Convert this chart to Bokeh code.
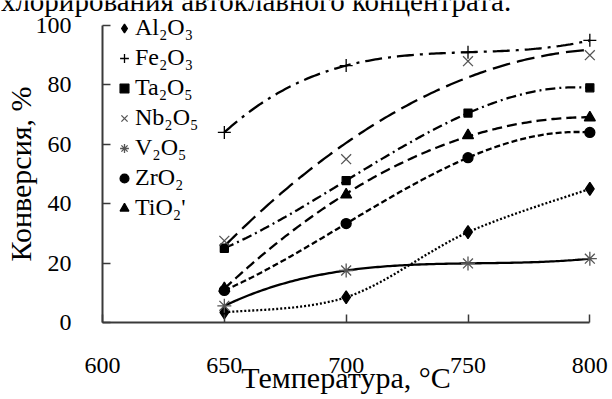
import numpy as np
from bokeh.plotting import figure
from bokeh.models import FixedTicker, Legend, LegendItem, Label, Range1d
from bokeh.embed import file_html
from bokeh.resources import INLINE

# ---- data ----
temps = [650, 700, 750, 800]
al2o3 = [3.4, 8.5, 30.4, 45.0]
fe2o3 = [64.0, 86.5, 91.0, 95.0]
ta2o5 = [25.0, 47.8, 70.5, 79.0]
nb2o5 = [27.5, 55.0, 88.0, 90.0]
v2o5 = [5.6, 17.5, 19.9, 21.5]
zro2 = [10.8, 33.3, 55.5, 64.0]
tio2 = [11.5, 43.0, 63.0, 69.0]

names = ["Al\u2082O\u2083", "Fe\u2082O\u2083", "Ta\u2082O\u2085", "Nb\u2082O\u2085",
         "V\u2082O\u2085", "ZrO\u2082", "TiO\u2082'"]
x_ticks = [600, 650, 700, 750, 800]
y_ticks = [0, 20, 40, 60, 80, 100]
x_title = "Температура, °C"
y_title = "Конверсия, %"
caption = "хлорирования автоклавного концентрата."

# ---- styles ----
FONT = "Liberation Serif"
values = [al2o3, fe2o3, ta2o5, nb2o5, v2o5, zro2, tio2]
markers = ["diamond", "cross", "square", "x", "asterisk", "circle", "triangle"]
msizes = [13, 13, 8, 14, 14, 10, 11]
mcolors = ["black", "black", "black", "#555555", "#555555", "black", "black"]
dashes = ["2 2", "17 6 3 6", "10 4 2 4", "18 7", "solid", "6 3", "10 5"]
# curve type for each series' trend line: "smooth" through points, or polynomial degree
curves = ["smooth", 3, 3, 2, 3, 3, 2]


def smooth_curve(xv, yv, n=40):
    """Catmull-Rom smoothed line through the points (like a spreadsheet 'smoothed line')."""
    P = np.column_stack([np.asarray(xv, float), np.asarray(yv, float)])
    P = np.vstack([P[0], P, P[-1]])
    out = []
    tt = np.linspace(0, 1, n)[:, None]
    for i in range(1, len(P) - 2):
        p0, p1, p2, p3 = P[i - 1], P[i], P[i + 1], P[i + 2]
        seg = 0.5 * ((2 * p1) + (-p0 + p2) * tt + (2 * p0 - 5 * p1 + 4 * p2 - p3) * tt ** 2
                     + (-p0 + 3 * p1 - 3 * p2 + p3) * tt ** 3)
        out.append(seg if i == 1 else seg[1:])
    out = np.vstack(out)
    return out[:, 0], out[:, 1]


def fit_curve(xv, yv, deg, n=151):
    t = (np.asarray(xv, float) - 725.0) / 50.0
    coef = np.polyfit(t, np.asarray(yv, float), deg)
    xs = np.linspace(min(xv), max(xv), n)
    return xs, np.polyval(coef, (xs - 725.0) / 50.0)


# The frame fills the whole canvas; both axes are pinned (x at y=0, y at x=600),
# ranges chosen so that 600 sits at 102 px from the left and 0 / 100 at 322 / 25 px from the top.
p = figure(width=612, height=399, output_backend="svg", toolbar_location=None,
           x_range=Range1d(558.14, 809.3), y_range=Range1d(-25.93, 108.42),
           min_border_left=0, min_border_right=0, min_border_top=0,
           min_border_bottom=0)
p.outline_line_color = None
p.grid.visible = False
p.background_fill_color = "white"
p.border_fill_color = "white"

for ax in (p.xaxis[0], p.yaxis[0]):
    ax.axis_line_color = "#3a3a3a"
    ax.axis_line_width = 2
    ax.major_tick_line_color = "#3a3a3a"
    ax.major_tick_line_width = 1.5
    ax.major_tick_in = 8
    ax.major_tick_out = 0
    ax.minor_tick_line_color = None
    ax.major_label_text_font = FONT
    ax.major_label_text_font_size = "24px"
    ax.major_label_text_color = "black"
    ax.axis_label_text_font = FONT
    ax.axis_label_text_font_size = "30px"
    ax.axis_label_text_font_style = "normal"
    ax.axis_label_text_color = "black"

p.xaxis.ticker = FixedTicker(ticks=x_ticks)
p.yaxis.ticker = FixedTicker(ticks=y_ticks)
p.xaxis.bounds = (600, 800)
p.yaxis.bounds = (0, 100)
p.yaxis.fixed_location = 600
p.xaxis.fixed_location = 0
p.xaxis.major_label_standoff = 36
p.yaxis.major_label_standoff = 31
p.xaxis.axis_label = x_title
p.yaxis.axis_label = y_title
p.xaxis.axis_label_standoff = -16
p.yaxis.axis_label_standoff = -4

for vals, d, cv in zip(values, dashes, curves):
    if cv == "smooth":
        xs, ys = smooth_curve(temps, vals)
    else:
        xs, ys = fit_curve(temps, vals, cv)
    p.line(xs, ys, line_color="black", line_width=2.3, line_dash=d)

scatters = []
for vals, m, s, c in zip(values, markers, msizes, mcolors):
    r = p.scatter(temps, vals, marker=m, size=s, fill_color=c, line_color=c,
                  line_width=1.3)
    scatters.append(r)

legend = Legend(items=[LegendItem(label=n, renderers=[r]) for n, r in zip(names, scatters)],
                location=(113, 178), orientation="vertical",
                border_line_color=None, background_fill_alpha=0,
                padding=0, margin=0, spacing=3,
                glyph_width=22, glyph_height=24, label_height=24,
                label_standoff=-6, label_text_font=FONT,
                label_text_font_size="24px", label_text_color="black")
p.add_layout(legend)

p.add_layout(Label(x=558.3, y=108.3, text=caption, text_font=FONT,
                   text_font_size="29px", text_align="left",
                   text_baseline="alphabetic", text_color="black"))

open("out.html", "w").write(file_html(p, INLINE))
